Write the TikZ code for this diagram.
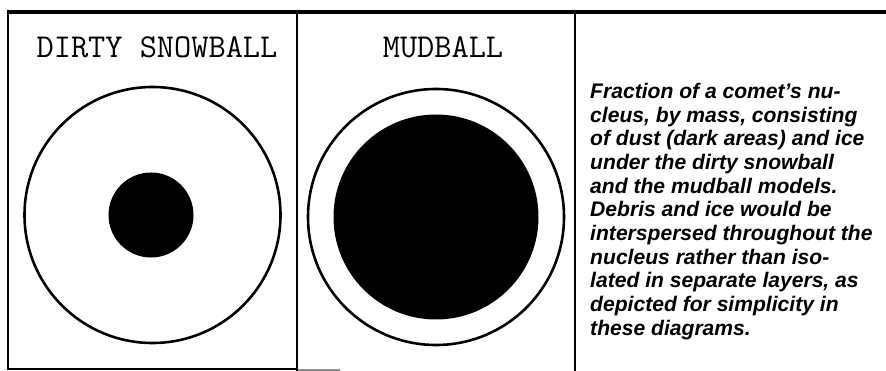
\documentclass[tikz,border=0pt]{standalone}
\usepackage{fontspec}
\usepackage{tikz}
\usetikzlibrary{positioning}
\newfontfamily\captionfont{Liberation Sans}
\tikzset{
  frameline/.style={line width=2.6pt,draw=black},
  sideline/.style={line width=2.0pt,draw=black},
  shell/.style={line width=2.2pt,draw=black},
  core/.style={fill=black},
  titlenode/.style={
    font=\fontsize{28.5}{32}\selectfont\ttfamily,
    inner sep=0pt,anchor=base
  },
  captionnode/.style={
    font=\fontsize{18}{20.2}\selectfont\captionfont\bfseries\itshape,
    align=left,inner sep=0pt,anchor=north west
  },
}
\begin{document}
\begin{tikzpicture}[x=0.03cm,y=-0.03cm]
  \useasboundingbox (0,0) rectangle (886,371);
  % frame
  \draw[frameline] (7,12) -- (886,12);
  \draw[sideline] (8,12) -- (8,369) -- (297,369);
  \draw[line width=1.2pt,draw=black!45] (297,370) -- (340,370);
  \draw[sideline] (297,12) -- (297,371);
  \draw[sideline] (575,12) -- (575,371);
  % titles
  \node[titlenode] (snowtitle) at (157,58) {DIRTY SNOWBALL};
  \node[titlenode] (mudtitle) at (443,58) {MUDBALL};
  % dirty snowball
  \draw[shell] (152.5,215) circle[radius=128];
  \fill[core] (151,215) circle[radius=42.5];
  % mudball
  \draw[shell] (436,217) circle[radius=128];
  \fill[core] (436,217) circle[radius=102.5];
  % caption
  \node[captionnode] (caption) at (590,83) {Fraction of a comet’s nu-\\
    cleus, by mass, consisting\\
    of dust (dark areas) and ice\\
    under the dirty snowball\\
    and the mudball models.\\
    Debris and ice would be\\
    interspersed throughout the\\
    nucleus rather than iso-\\
    lated in separate layers, as\\
    depicted for simplicity in\\
    these diagrams.};
\end{tikzpicture}
\end{document}
